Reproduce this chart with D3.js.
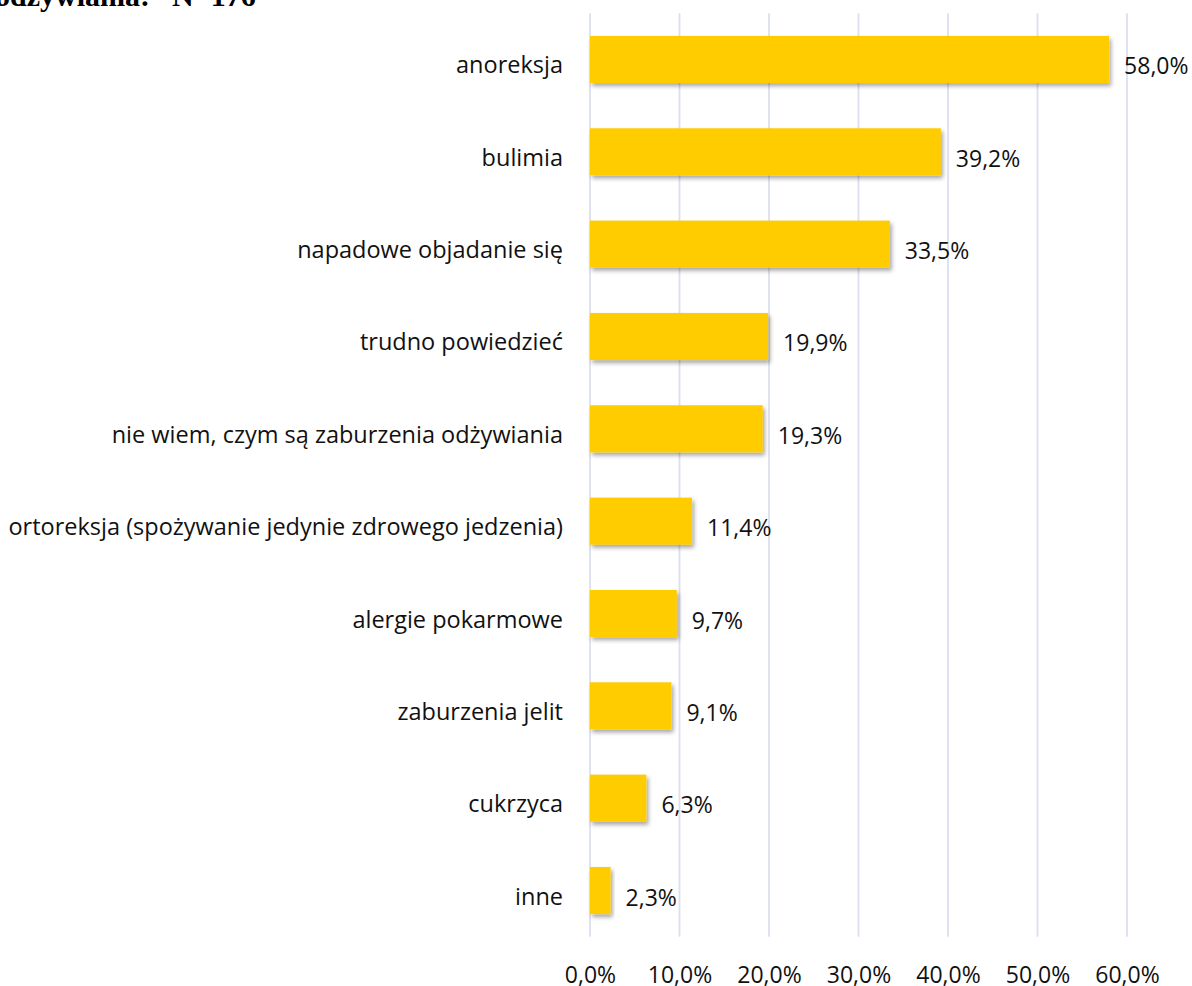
<!DOCTYPE html>
<html>
<head>
<meta charset="utf-8">
<script src="https://cdn.jsdelivr.net/npm/d3@7"></script>
<style>
  html, body { margin: 0; padding: 0; background: #fff; overflow: hidden; }
  svg { display: block; }
</style>
</head>
<body>
<svg id="chart" width="1192" height="986"></svg>
<script>
// Answers on eating disorders (share of respondents)
const categories = [
  "anoreksja",
  "bulimia",
  "napadowe objadanie się",
  "trudno powiedzieć",
  "nie wiem, czym są zaburzenia odżywiania",
  "ortoreksja (spożywanie jedynie zdrowego jedzenia)",
  "alergie pokarmowe",
  "zaburzenia jelit",
  "cukrzyca",
  "inne"
];
const values = [58.0, 39.2, 33.5, 19.9, 19.3, 11.4, 9.7, 9.1, 6.3, 2.3];
const tickValues = [0, 10, 20, 30, 40, 50, 60];
const titleText = "odżywiania:";
const titleN = "N=176";

const fmt = v => v.toFixed(1).replace(".", ",") + "%";
const FONT = "'Open Sans', sans-serif";

const svg = d3.select("#chart");

const x = d3.scaleLinear().domain([0, 60]).range([590, 1127]);
const y = d3.scaleBand().domain(categories).range([13.3, 936.7])
  .paddingInner(0.49).paddingOuter(0.245);

// soft drop shadow under the bars
const defs = svg.append("defs");
const f = defs.append("filter").attr("id", "shadow")
  .attr("x", "-10%").attr("y", "-20%").attr("width", "130%").attr("height", "160%");
f.append("feDropShadow").attr("dx", 2).attr("dy", 3).attr("stdDeviation", 2)
  .attr("flood-color", "#000").attr("flood-opacity", 0.35);

// vertical gridlines
svg.append("g")
  .selectAll("line").data(tickValues).join("line")
  .attr("x1", d => x(d)).attr("x2", d => x(d))
  .attr("y1", y.range()[0]).attr("y2", y.range()[1])
  .attr("stroke", "#dcdfee").attr("stroke-width", 1.8);

// bars
svg.append("g")
  .selectAll("rect").data(values).join("rect")
  .attr("x", x(0))
  .attr("y", (d, i) => y(categories[i]))
  .attr("width", d => x(d) - x(0))
  .attr("height", y.bandwidth())
  .attr("fill", "#ffcc00")
  .attr("filter", "url(#shadow)");

// value labels
svg.append("g")
  .selectAll("text").data(values).join("text")
  .attr("x", d => x(d) + 15)
  .attr("y", (d, i) => y(categories[i]) + y.bandwidth() / 2 + 15)
  .attr("font-family", FONT).attr("font-size", 23).attr("fill", "#111")
  .text(d => fmt(d));

// category axis
const yAxis = svg.append("g")
  .attr("transform", `translate(${x(0)},0)`)
  .call(d3.axisLeft(y).tickSize(0).tickPadding(27));
yAxis.select(".domain").remove();
yAxis.selectAll("text")
  .attr("font-family", FONT).attr("font-size", 23.5).attr("fill", "#111")
  .attr("dy", null).attr("y", 14);

// value axis
const xAxis = svg.append("g")
  .attr("transform", "translate(0,960)")
  .call(d3.axisBottom(x).tickValues(tickValues).tickSize(0).tickPadding(0)
    .tickFormat(d => fmt(d)));
xAxis.select(".domain").remove();
xAxis.selectAll("text")
  .attr("font-family", FONT).attr("font-size", 23).attr("fill", "#111")
  .attr("dy", null).attr("y", 23);

// heading (clipped at the top edge)
const t = svg.append("text")
  .attr("x", -5).attr("y", 5.5)
  .attr("font-family", "'Liberation Serif', 'Times New Roman', serif")
  .attr("font-weight", "bold").attr("font-size", 30).attr("fill", "#000");
t.append("tspan").text(titleText);
t.append("tspan").attr("x", 172).text(titleN);
</script>
</body>
</html>
